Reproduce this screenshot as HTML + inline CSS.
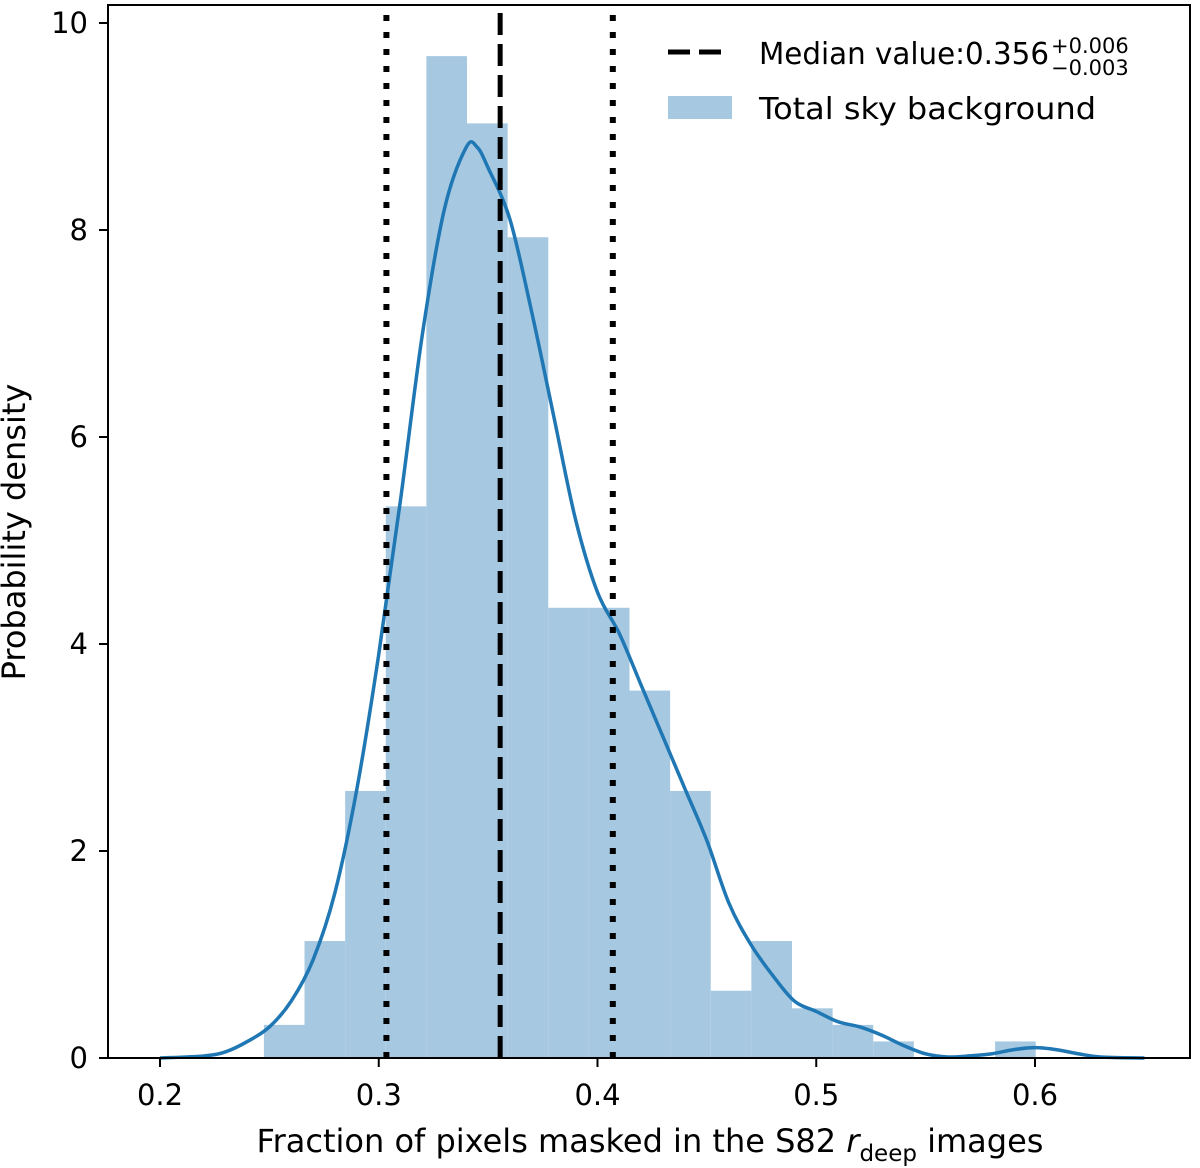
<!DOCTYPE html>
<html><head><meta charset="utf-8"><style>
body{margin:0;background:#fff}
svg{display:block;font-family:"DejaVu Sans","Liberation Sans",sans-serif}
</style></head><body>
<svg id="c" width="1200" height="1168" viewBox="0 0 1200 1168"></svg>
<script>
const binStart=0.2475, binWidth=0.01857;
const binHeights=[0.32,1.13,2.58,5.33,9.68,9.03,7.93,4.35,4.35,3.55,2.58,0.65,1.13,0.48,0.32,0.16,0,0,0.16];
const kdeX=[0.2,0.22,0.23,0.24,0.25,0.26,0.27,0.28,0.29,0.30,0.31,0.32,0.33,0.34,0.345,0.35,0.36,0.37,0.38,0.39,0.40,0.41,0.42,0.43,0.44,0.45,0.46,0.47,0.48,0.49,0.50,0.51,0.52,0.53,0.54,0.55,0.56,0.57,0.58,0.59,0.60,0.61,0.62,0.63,0.65];
const kdeY=[0,0.02,0.06,0.16,0.3,0.55,0.95,1.6,2.6,3.9,5.4,7.0,8.2,8.8,8.8,8.6,8.1,7.2,6.2,5.2,4.5,4.1,3.6,3.1,2.6,2.1,1.5,1.1,0.8,0.55,0.45,0.35,0.3,0.22,0.12,0.04,0.01,0.02,0.04,0.08,0.1,0.08,0.04,0.01,0];
const medianVal=0.3555, lowVal=0.3035, highVal=0.407;
const xTicks=[0.2,0.3,0.4,0.5,0.6];
const yTicks=[0,2,4,6,8,10];
const NS="http://www.w3.org/2000/svg";
const svg=document.getElementById('c');
const X=v=>160+(v-0.2)*2187.5;
const Y=v=>1058-v*103.5;
function mk(t,a,p){const e=document.createElementNS(NS,t);for(const k in a)e.setAttribute(k,a[k]);(p||svg).appendChild(e);return e;}
binHeights.forEach((h,i)=>{if(h<=0)return;
const x0=X(binStart+i*binWidth),x1=X(binStart+(i+1)*binWidth);
const r=mk('rect',{x:x0,y:Y(h),width:x1-x0,height:Y(0)-Y(h),fill:'#a6c8e1'});

});
const pts=kdeX.map((v,i)=>[X(v),Y(kdeY[i])]);
let d='M'+pts[0][0]+','+pts[0][1];
for(let i=0;i<pts.length-1;i++){const p0=pts[Math.max(0,i-1)],p1=pts[i],p2=pts[i+1],p3=pts[Math.min(pts.length-1,i+2)];
d+=` C${p1[0]+(p2[0]-p0[0])/6},${p1[1]+(p2[1]-p0[1])/6} ${p2[0]-(p3[0]-p1[0])/6},${p2[1]-(p3[1]-p1[1])/6} ${p2[0]},${p2[1]}`;}
const kp=mk('path',{d:d,fill:'none',stroke:'#1f77b4','stroke-width':3.5});


[[lowVal,'6,11',6,'lower-bound-line'],[highVal,'6,11',6,'upper-bound-line'],[medianVal,'22,9',5,'median-line']].forEach(([v,da,w,n])=>{
const l=mk('line',{x1:X(v),x2:X(v),y1:1058,y2:5,stroke:'#000','stroke-width':w,'stroke-dasharray':da});

});
const fr=mk('rect',{x:108,y:5,width:1082,height:1053,fill:'none',stroke:'#000','stroke-width':2});


xTicks.forEach(v=>{mk('line',{x1:X(v),x2:X(v),y1:1058,y2:1067,stroke:'#000','stroke-width':2});
const t=mk('text',{x:X(v),y:1105,'font-size':29,'text-anchor':'middle'});t.textContent=v.toFixed(1);

});
yTicks.forEach(v=>{mk('line',{x1:99,x2:108,y1:Y(v),y2:Y(v),stroke:'#000','stroke-width':2});
const t=mk('text',{x:88,y:Y(v)+10,'font-size':29,'text-anchor':'end'});t.textContent=v;

});
</script>
<div style="position:absolute;left:0;top:0;width:1200px;height:1168px;pointer-events:none">
<svg width="1200" height="1168" style="font-family:'DejaVu Sans','Liberation Sans',sans-serif">
<text transform="translate(25,532) rotate(-90)" font-size="32" text-anchor="middle">Probability density</text>
<text x="650" y="1152" font-size="32" text-anchor="middle">Fraction of pixels masked in the S82 <tspan font-style="italic">r</tspan><tspan font-size="23" dy="9">deep</tspan><tspan dy="-9"> images</tspan></text>
<g>
<line x1="668" x2="730" y1="52" y2="52" stroke="#000" stroke-width="5" stroke-dasharray="22,9"/>
<text x="759" y="64" font-size="30" textLength="290" lengthAdjust="spacingAndGlyphs">Median value:0.356</text>
<text x="1051" y="53" font-size="21">+0.006</text>
<text x="1051" y="75" font-size="21">−0.003</text>
<rect x="668" y="96" width="64" height="23" fill="#a6c8e1"/>
<text x="759" y="119" font-size="30" textLength="337" lengthAdjust="spacingAndGlyphs">Total sky background</text>
</g>
</svg></div>
</body></html>
